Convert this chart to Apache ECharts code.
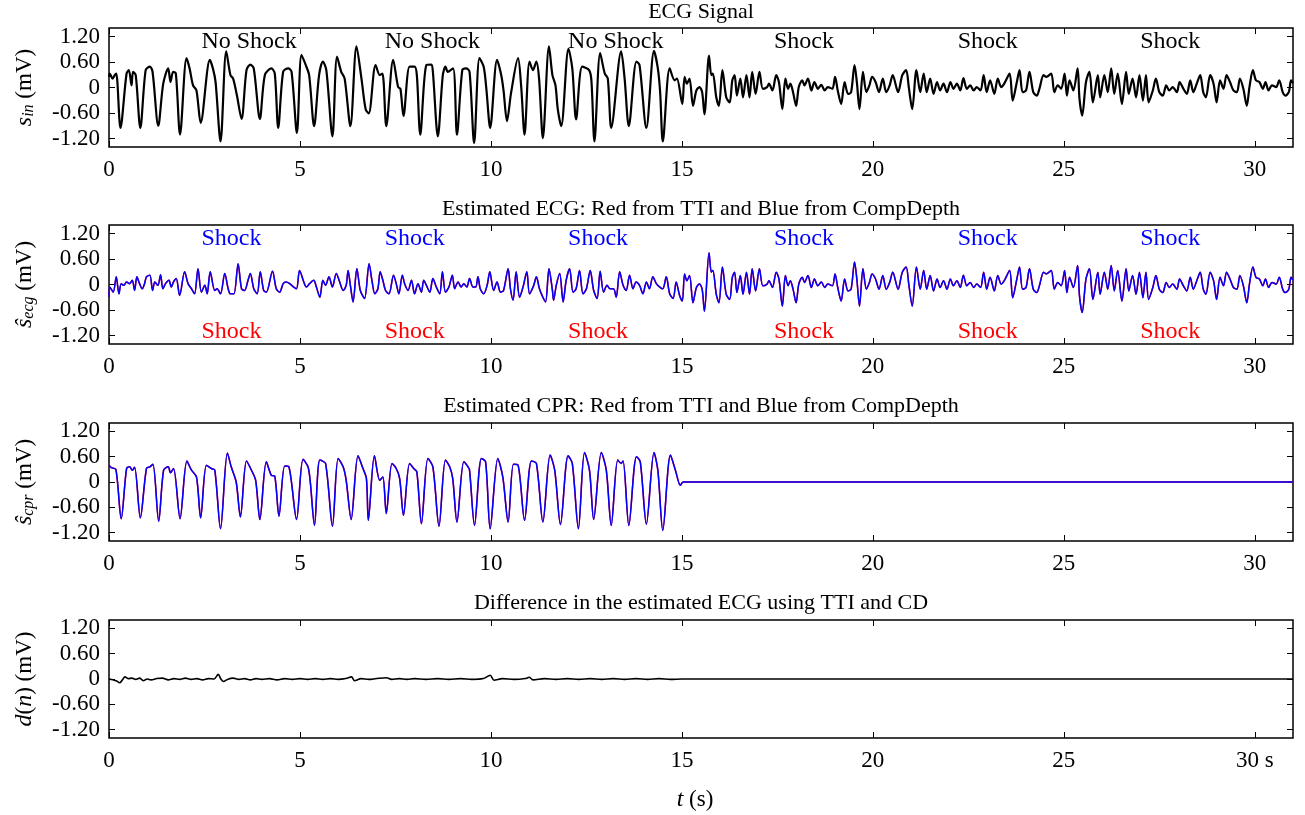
<!DOCTYPE html>
<html><head><meta charset="utf-8">
<script src="https://cdn.jsdelivr.net/npm/echarts@6/dist/echarts.min.js"></script>
<style>html,body{margin:0;padding:0;background:#fff}#c{width:1305px;height:815px}</style>
</head><body><div id="c"></div>
<script>
// ---------- DATA (time s, value mV) ----------
const xTicks = [0, 5, 10, 15, 20, 25, 30];
const yTicks = [-1.2, -0.6, 0, 0.6, 1.2];

const ecgInHead = [[0,0.25],[0.02,0.33],[0.09,0.21],[0.15,0.29],[0.19,0.33],[0.30,-0.95],[0.46,0.33],[0.52,0.41],[0.59,0.05],[0.63,0.37],[0.70,0.29],[0.82,-0.95],[0.96,0.41],[1.07,0.49],[1.14,0.37],[1.29,-0.90],[1.42,0.09],[1.55,0.45],[1.61,0.13],[1.68,0.37],[1.75,0.33],[1.86,-1.11],[2.03,0.69],[2.11,0.45],[2.20,0.05],[2.29,-0.07],[2.40,-0.83],[2.64,0.65],[2.72,0.45],[2.79,0.13],[2.92,-1.27],[3.07,0.85],[3.18,0.29],[3.25,0.21],[3.35,-0.19],[3.47,-0.74],[3.60,0.41],[3.70,0.54],[3.79,0.45],[3.95,-0.74],[4.08,0.29],[4.25,0.45],[4.34,0.33],[4.43,-0.95],[4.56,0.37],[4.69,0.45],[4.78,0.37],[4.92,-1.07],[5.04,0.77],[5.15,0.53],[5.24,0.29],[5.37,-0.91],[5.50,0.29],[5.60,0.61],[5.69,0.41],[5.85,-1.15],[5.97,0.73],[6.08,0.37],[6.17,0.21],[6.32,-0.91],[6.48,0.97],[6.61,0.21],[6.72,-0.51],[6.80,-0.61],[6.98,0.53],[7.09,0.29],[7.16,0.33],[7.26,-0.91],[7.44,0.65],[7.57,0.01],[7.63,-0.03],[7.71,-0.67],[7.87,0.49],[8.00,0.49],[8.06,0.29],[8.15,-1.11],[8.31,0.53],[8.44,0.54],[8.48,0.37],[8.61,-1.15],[8.74,0.29],[8.81,0.49],[8.87,0.37],[9.01,0.45],[9.11,-1.11],[9.25,0.41],[9.35,0.45],[9.44,0.37],[9.56,-1.31],[9.70,0.69],[9.81,0.49],[9.88,-0.03],[9.98,-0.95],[10.16,0.65],[10.27,0.29],[10.33,-0.07],[10.42,-0.79],[10.53,-0.11],[10.71,0.69],[10.79,0.05],[10.88,-1.11],[11.01,0.61],[11.10,0.41],[11.19,0.61],[11.26,0.21],[11.36,-1.19],[11.52,0.97],[11.61,0.29],[11.69,0.05],[11.75,-0.51],[11.84,-0.91],[12.03,0.91],[12.13,0.45],[12.23,-0.75],[12.39,0.49],[12.57,0.41],[12.63,0.17],[12.71,-1.27],[12.86,0.81],[12.98,0.33],[13.06,0.21],[13.15,-0.95],[13.41,0.85],[13.50,0.21],[13.61,-0.91],[13.81,0.61],[13.89,0.53],[14.07,-0.95],[14.27,0.86],[14.37,0.45],[14.43,-0.11],[14.50,-1.27],[14.68,0.45],[14.81,0.17],[14.87,0.21]];

const ecgTail = [[15.01,-0.39],[15.07,0.25],[15.13,0.09],[15.20,0.21],[15.29,-0.43],[15.38,-0.07],[15.46,0.01],[15.53,-0.11],[15.59,-0.63],[15.71,0.75],[15.77,0.29],[15.81,0.33],[15.90,-0.23],[15.97,-0.43],[16.06,0.41],[16.16,-0.23],[16.25,-0.35],[16.32,0.17],[16.38,0.29],[16.44,-0.19],[16.53,0.21],[16.60,-0.23],[16.69,0.29],[16.77,-0.23],[16.84,0.37],[16.93,-0.15],[17.03,0.37],[17.12,-0.03],[17.23,0.01],[17.28,0.09],[17.37,-0.07],[17.47,0.29],[17.54,0.13],[17.63,-0.51],[17.71,0.21],[17.78,-0.03],[17.84,0.09],[17.91,-0.11],[17.99,-0.43],[18.06,0.01],[18.15,0.17],[18.21,0.05],[18.30,0.21],[18.39,-0.07],[18.47,0.13],[18.56,-0.03],[18.65,0.06],[18.74,-0.07],[18.82,0.01],[18.94,-0.03],[19.01,0.25],[19.08,-0.07],[19.17,-0.39],[19.26,0.13],[19.35,-0.15],[19.43,-0.11],[19.52,0.53],[19.58,0.13],[19.65,-0.51],[19.74,0.37],[19.83,-0.11],[19.91,0.05],[19.98,0.25],[20.07,0.13],[20.16,-0.11],[20.26,0.21],[20.35,-0.11],[20.44,0.05],[20.52,0.29],[20.66,-0.11],[20.77,0.29],[20.87,0.41],[20.94,0.01],[21.03,-0.51],[21.14,0.41],[21.24,-0.11],[21.33,0.33],[21.41,-0.11],[21.50,0.21],[21.59,-0.15],[21.68,0.13],[21.76,-0.07],[21.85,0.09],[21.94,-0.11],[22.03,0.13],[22.11,-0.03],[22.20,0.09],[22.29,-0.07],[22.37,0.22],[22.46,-0.03],[22.55,0.05],[22.64,-0.07],[22.72,0.01],[22.82,-0.07],[22.90,0.29],[22.98,-0.11],[23.07,0.17],[23.18,-0.15],[23.27,0.21],[23.36,0.01],[23.44,0.09],[23.58,0.33],[23.66,-0.31],[23.77,0.13],[23.84,0.41],[23.92,-0.11],[24.01,-0.07],[24.10,0.37],[24.20,-0.11],[24.29,-0.19],[24.36,-0.03],[24.47,0.29],[24.54,0.25],[24.67,0.33],[24.75,-0.11],[24.84,0.05],[24.93,-0.03],[25.02,0.33],[25.08,-0.19],[25.15,0.17],[25.25,-0.07],[25.36,0.45],[25.41,-0.27],[25.48,-0.66],[25.58,0.13],[25.67,0.37],[25.76,-0.35],[25.89,0.29],[25.95,-0.23],[26.06,0.29],[26.15,-0.11],[26.24,0.45],[26.32,-0.15],[26.41,0.33],[26.52,-0.39],[26.63,0.37],[26.70,-0.15],[26.80,0.21],[26.89,-0.23],[26.98,0.29],[27.07,-0.31],[27.15,0.29],[27.22,-0.35],[27.33,-0.07],[27.41,0.21],[27.50,-0.11],[27.59,-0.19],[27.68,0.05],[27.76,-0.07],[27.85,0.01],[27.96,-0.11],[28.03,0.13],[28.13,-0.03],[28.22,-0.15],[28.31,0.17],[28.39,-0.11],[28.48,0.09],[28.57,0.29],[28.65,-0.11],[28.72,-0.23],[28.83,0.29],[28.92,0.09],[29.00,-0.35],[29.09,0.17],[29.18,-0.03],[29.26,0.29],[29.35,0.13],[29.44,-0.07],[29.53,-0.11],[29.61,0.21],[29.70,-0.03],[29.79,-0.43],[29.86,0.01],[29.95,0.41],[30.03,0.17],[30.12,0.13],[30.21,-0.03],[30.28,0.13],[30.36,-0.07],[30.45,0.05],[30.56,0.01],[30.64,0.17],[30.73,-0.11],[30.80,-0.19],[30.89,-0.11],[30.95,0.17],[31.0,0.10]];

const ecgEstHead = [[0,-0.30],[0.02,-0.06],[0.11,-0.18],[0.19,0.18],[0.26,-0.22],[0.32,0.02],[0.39,-0.02],[0.46,0.06],[0.54,0.02],[0.61,0.10],[0.67,-0.14],[0.73,0.18],[0.80,0.02],[0.87,-0.10],[0.93,0.02],[0.98,0.18],[1.07,0.22],[1.14,-0.14],[1.20,0.06],[1.28,-0.02],[1.35,0.23],[1.41,-0.10],[1.48,0.02],[1.57,0.10],[1.63,-0.06],[1.69,0.06],[1.76,0.14],[1.85,-0.26],[1.98,0.30],[2.07,0.02],[2.16,-0.10],[2.24,-0.22],[2.33,0.37],[2.42,-0.18],[2.51,-0.02],[2.57,-0.22],[2.65,0.30],[2.77,-0.14],[2.83,-0.10],[2.92,-0.22],[3.03,0.26],[3.12,-0.10],[3.18,-0.22],[3.27,-0.22],[3.38,0.49],[3.47,-0.10],[3.55,-0.14],[3.64,0.10],[3.70,0.26],[3.79,-0.10],[3.88,-0.22],[3.96,0.30],[4.05,-0.14],[4.12,-0.18],[4.28,0.31],[4.38,-0.10],[4.47,-0.18],[4.56,0.02],[4.64,0.06],[4.73,0.02],[4.84,-0.06],[4.91,-0.10],[4.99,0.33],[5.10,0.06],[5.17,-0.06],[5.25,0.02],[5.36,0.10],[5.43,-0.06],[5.52,-0.30],[5.60,0.10],[5.67,-0.02],[5.76,0.18],[5.85,-0.06],[5.95,0.26],[6.04,0.06],[6.13,-0.14],[6.21,-0.02],[6.26,0.33],[6.32,-0.02],[6.39,-0.41],[6.49,0.37],[6.58,-0.14],[6.69,-0.33],[6.81,0.49],[6.89,0.06],[6.96,-0.22],[7.04,-0.10],[7.10,0.30],[7.17,0.10],[7.24,-0.14],[7.33,-0.22],[7.45,0.22],[7.52,0.02],[7.59,-0.22],[7.68,0.22],[7.74,0.02],[7.83,-0.14],[7.92,0.10],[8.00,-0.22],[8.09,0.02],[8.18,-0.18],[8.24,0.10],[8.31,-0.02],[8.40,-0.18],[8.48,0.14],[8.57,-0.06],[8.66,-0.22],[8.73,0.30],[8.81,-0.18],[8.90,-0.06],[8.99,0.22],[9.05,-0.10],[9.14,0.06],[9.22,-0.06],[9.29,0.02],[9.37,-0.06],[9.44,0.14],[9.53,-0.06],[9.60,-0.06],[9.66,0.18],[9.72,-0.10],[9.81,-0.22],[9.90,-0.02],[9.97,0.30],[10.07,-0.14],[10.16,0.06],[10.25,-0.18],[10.33,-0.14],[10.45,0.37],[10.51,-0.10],[10.58,-0.37],[10.66,0.30],[10.75,-0.30],[10.84,-0.06],[10.94,0.30],[11.01,-0.22],[11.12,-0.02],[11.19,0.18],[11.27,-0.10],[11.36,-0.30],[11.43,-0.41],[11.52,0.37],[11.61,-0.14],[11.64,-0.37],[11.71,-0.02],[11.80,0.26],[11.89,-0.41],[11.97,0.10],[12.06,0.37],[12.15,-0.18],[12.23,-0.10],[12.32,0.33],[12.41,-0.22],[12.50,-0.10],[12.60,0.33],[12.69,-0.14],[12.78,-0.33],[12.86,0.31],[12.95,-0.18],[13.04,-0.02],[13.12,-0.10],[13.21,-0.10],[13.28,-0.30],[13.37,0.30],[13.46,-0.02],[13.54,-0.14],[13.63,0.22],[13.72,-0.10],[13.80,0.06],[13.89,-0.02],[13.98,-0.22],[14.07,0.06],[14.15,-0.10],[14.24,0.18],[14.33,0.02],[14.42,-0.06],[14.50,-0.10],[14.59,0.18],[14.68,-0.22],[14.77,-0.33],[14.85,0.06],[14.94,-0.26]];

const cprHead = [[0,0.40],[0.06,0.34],[0.18,0.30],[0.32,-0.87],[0.46,0.32],[0.54,0.36],[0.61,0.28],[0.67,0.35],[0.82,-0.85],[0.98,0.32],[1.07,0.36],[1.15,0.42],[1.30,-0.93],[1.43,0.28],[1.55,0.36],[1.61,0.22],[1.69,0.32],[1.86,-0.87],[2.04,0.50],[2.16,0.28],[2.29,0.12],[2.40,-0.85],[2.55,0.40],[2.68,0.32],[2.77,0.28],[2.92,-1.11],[3.10,0.69],[3.20,0.36],[3.33,0.0],[3.44,-0.83],[3.60,0.50],[3.73,0.28],[3.84,0.04],[3.95,-0.89],[4.12,0.48],[4.25,0.16],[4.34,0.14],[4.45,-0.81],[4.60,0.38],[4.71,0.36],[4.91,-0.89],[5.08,0.54],[5.21,0.36],[5.27,0.0],[5.38,-1.03],[5.52,0.52],[5.67,0.44],[5.85,-1.05],[6.00,0.56],[6.13,0.36],[6.21,0.04],[6.34,-0.89],[6.52,0.62],[6.65,0.32],[6.74,0.08],[6.79,-0.91],[6.95,0.62],[7.09,0.04],[7.17,0.12],[7.26,-0.75],[7.41,0.44],[7.52,0.32],[7.61,0.08],[7.71,-0.79],[7.87,0.44],[7.98,0.32],[8.06,0.24],[8.18,-0.99],[8.35,0.56],[8.48,0.36],[8.64,-1.05],[8.81,0.52],[8.92,0.36],[9.00,0.08],[9.11,-0.95],[9.29,0.48],[9.40,0.36],[9.44,0.28],[9.57,-1.03],[9.75,0.56],[9.86,0.48],[9.98,-1.11],[10.18,0.56],[10.31,0.12],[10.45,-0.95],[10.59,0.42],[10.71,0.40],[10.88,-0.91],[11.06,0.50],[11.19,0.44],[11.36,-0.95],[11.55,0.64],[11.67,0.28],[11.82,-1.01],[12.02,0.62],[12.13,0.44],[12.29,-1.11],[12.45,0.70],[12.58,0.28],[12.69,-0.89],[12.89,0.70],[13.02,0.28],[13.15,-1.03],[13.32,0.52],[13.41,0.44],[13.46,0.50],[13.61,-1.03],[13.81,0.60],[13.91,0.48],[14.07,-1.00],[14.27,0.70],[14.37,0.28],[14.50,-1.15],[14.70,0.64],[14.83,0.28],[14.96,-0.08],[15.03,0.0]];
const cprTail = [[15.2,0],[31,0]];

const diffHead = [[0,0],[0.1,-0.02],[0.2,-0.05],[0.28,-0.09],[0.35,-0.02],[0.42,0.05],[0.5,0.01],[0.6,0.02],[0.7,-0.01],[0.8,0.02],[0.9,-0.04],[1.0,0.0],[1.1,-0.02],[1.25,0.01],[1.4,0.02],[1.55,-0.02],[1.7,0.01],[1.85,-0.01],[2.0,0.02],[2.15,-0.01],[2.3,0.01],[2.45,-0.02],[2.6,0.01],[2.75,0.0],[2.86,0.11],[2.93,0.0],[3.0,-0.06],[3.1,-0.01],[3.25,0.02],[3.4,-0.01],[3.55,0.01],[3.7,-0.02],[3.85,0.01],[4.0,-0.01],[4.2,0.01],[4.4,-0.02],[4.6,0.01],[4.8,-0.01],[5.0,0.01],[5.2,-0.01],[5.4,0.01],[5.6,-0.01],[5.8,0.01],[6.0,-0.01],[6.2,0.01],[6.35,0.05],[6.43,-0.04],[6.6,0.01],[6.8,-0.01],[7.0,0.01],[7.26,0.03],[7.4,-0.01],[7.6,0.01],[7.8,-0.01],[8.0,0.01],[8.3,-0.01],[8.6,0.01],[8.9,-0.01],[9.2,0.01],[9.5,-0.01],[9.8,0.01],[9.98,0.09],[10.08,-0.03],[10.3,0.01],[10.6,-0.01],[10.9,0.01],[11.0,0.04],[11.1,-0.02],[11.4,0.01],[11.7,-0.01],[12.0,0.01],[12.3,-0.01],[12.6,0.01],[12.9,-0.01],[13.2,0.01],[13.5,-0.01],[13.8,0.01],[14.1,-0.01],[14.4,0.01],[14.7,-0.01],[15.0,0]];
const diffTail = [[15.2,0],[31,0]];

const decisionStarts = [2.42, 7.22, 12.02, 17.41, 22.22, 27.0];
const inDecisions = ['No Shock','No Shock','No Shock','Shock','Shock','Shock'];
const cdDecisions = ['Shock','Shock','Shock','Shock','Shock','Shock'];
const ttiDecisions = ['Shock','Shock','Shock','Shock','Shock','Shock'];

const titles = ['ECG Signal','Estimated ECG: Red from TTI and Blue from CompDepth','Estimated CPR: Red from TTI and Blue from CompDepth','Difference in the estimated ECG using TTI and CD'];

// ---------- LAYOUT ----------
const FF = 'Liberation Serif';
const tops = [28, 225, 423, 620];
const hs = [119, 119, 118, 118];
const L = 109, R = 12;
const yNames = ['{i|s}{s|in} {n|(mV)}','{i|ŝ}{s|ecg} {n|(mV)}','{i|ŝ}{s|cpr} {n|(mV)}','{i|d}{n|(}{i|n}{n|)} {n|(mV)}'];
const rich = {
  i:{fontFamily:FF,fontStyle:'italic',fontSize:24,color:'#000'},
  s:{fontFamily:FF,fontStyle:'italic',fontSize:16,color:'#000',verticalAlign:'bottom',padding:[8,0,0,0]},
  n:{fontFamily:FF,fontSize:23,color:'#000'}
};
const grid=[],xAxis=[],yAxis=[],series=[];
for(let k=0;k<4;k++){
  grid.push({left:L,right:R,top:tops[k],height:hs[k],show:true,borderColor:'#000',borderWidth:1.5,backgroundColor:'#fff'});
  const tick={inside:true,length:6,lineStyle:{color:'#000',width:1},customValues:xTicks};
  xAxis.push({gridIndex:k,type:'value',min:0,max:31,position:'bottom',axisLine:{show:false,onZero:false},splitLine:{show:false},
    axisTick:tick,
    axisLabel:{customValues:xTicks,fontFamily:FF,fontSize:23,color:'#000',margin:11,
      formatter:v=>(k===3&&v===30)?'30 s':String(v)}});
  xAxis.push({gridIndex:k,type:'value',min:0,max:31,position:'top',axisLine:{show:false,onZero:false},splitLine:{show:false},
    axisTick:tick,axisLabel:{show:false}});
  const yt={inside:true,length:6,lineStyle:{color:'#000',width:1},customValues:yTicks};
  yAxis.push({gridIndex:k,type:'value',min:-1.4,max:1.4,position:'left',axisLine:{show:false,onZero:false},splitLine:{show:false},
    axisTick:yt,
    axisLabel:{customValues:yTicks,fontFamily:FF,fontSize:23,color:'#000',margin:9,formatter:v=>v===0?'0':v.toFixed(2)},
    name:yNames[k],nameLocation:'middle',nameGap:72,nameRotate:90,nameTextStyle:{rich:rich,fontFamily:FF,fontSize:23,color:'#000'}});
  yAxis.push({gridIndex:k,type:'value',min:-1.4,max:1.4,position:'right',axisLine:{show:false,onZero:false},splitLine:{show:false},
    axisTick:yt,axisLabel:{show:false}});
}
const line=(k,data,color,width,z)=>({type:'line',xAxisIndex:2*k,yAxisIndex:2*k,data:data,showSymbol:false,symbol:'none',
  smooth:0.3,lineStyle:{color:color,width:width},z:z||2,silent:true,animation:false});
series.push(line(0,ecgInHead.concat(ecgTail),'#000',2.2));
series.push(line(1,ecgEstHead.concat(ecgTail),'#ff0000',1.5));
series.push(line(1,ecgEstHead.concat(ecgTail),'#0000ff',1.5,3));
series.push(line(2,cprHead.concat(cprTail),'#ff0000',1.5));
series.push(line(2,cprHead.concat(cprTail),'#0000ff',1.5,3));
series.push(line(3,diffHead.concat(diffTail),'#000',1.6));
const labels=(k,names,y,color)=>({type:'scatter',xAxisIndex:2*k,yAxisIndex:2*k,symbolSize:0,silent:true,z:5,animation:false,
  itemStyle:{opacity:1},
  data:decisionStarts.map((t,i)=>({value:[t,y],label:{formatter:names[i]}})),
  label:{show:true,position:'right',distance:0,fontFamily:FF,fontSize:24,color:color,opacity:1}});
series.push(labels(0,inDecisions,1.08,'#000'));
series.push(labels(1,cdDecisions,1.07,'#0000ff'));
series.push(labels(1,ttiDecisions,-1.12,'#ff0000'));

const titleY=[12,209,406,603];
const graphic=titles.map((t,k)=>({type:'text',x:701,y:titleY[k],style:{text:t,fontFamily:FF,fontSize:22,fill:'#000',textAlign:'center',textVerticalAlign:'middle'}}));
graphic.push({type:'text',x:695,y:800,style:{text:'{i|t} (s)',rich:{i:{fontFamily:FF,fontStyle:'italic',fontSize:24}},fontFamily:FF,fontSize:23,fill:'#000',textAlign:'center',textVerticalAlign:'middle'}});

const chart=echarts.init(document.getElementById('c'),null,{renderer:'canvas'});
chart.setOption({animation:false,backgroundColor:'#fff',grid,xAxis,yAxis,series,graphic});
</script></body></html>
